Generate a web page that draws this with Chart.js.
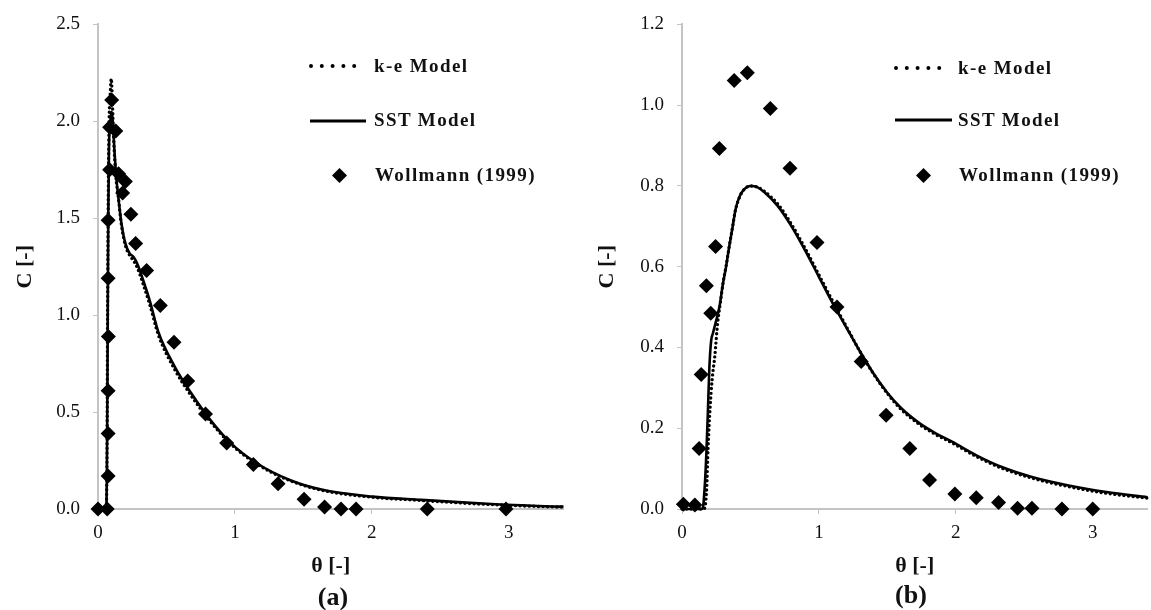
<!DOCTYPE html>
<html>
<head>
<meta charset="utf-8">
<script src="https://cdn.jsdelivr.net/npm/chart.js@4.4.1/dist/chart.umd.min.js"></script>
<style>
  html, body { margin:0; padding:0; background:#fff; }
  body { width:1151px; height:610px; position:relative; overflow:hidden; font-family:"Liberation Serif", serif; }
  .panel { position:absolute; top:0; height:610px; }
  .leg { position:absolute; font-weight:bold; font-size:19px; letter-spacing:1.4px; color:#111; line-height:20px; white-space:nowrap; }
  .cap { position:absolute; font-weight:bold; font-size:26px; color:#111; transform:translate(-50%,-50%); }
  svg.sym { position:absolute; overflow:visible; }
</style>
</head>
<body>

<div class="panel" style="left:0;width:571px"><canvas id="chart-a"></canvas></div>
<div class="panel" style="left:580px;width:575px"><canvas id="chart-b"></canvas></div>

<!-- legends -->
<svg class="sym" style="left:310px;top:60px" width="56" height="12"><line x1="1" y1="6" x2="55" y2="6" stroke="#000" stroke-width="4" stroke-linecap="round" stroke-dasharray="0 10.8"/></svg>
<div class="leg" style="left:374px;top:56px">k-e Model</div>
<svg class="sym" style="left:310px;top:115px" width="56" height="12"><line x1="0" y1="6" x2="56" y2="6" stroke="#000" stroke-width="3"/></svg>
<div class="leg" style="left:374px;top:110px">SST Model</div>
<svg class="sym" style="left:332px;top:168px" width="15" height="15"><polygon points="7.5,0 15,7.5 7.5,15 0,7.5" fill="#000"/></svg>
<div class="leg" style="left:375px;top:165px">Wollmann (1999)</div>

<svg class="sym" style="left:895px;top:62px" width="56" height="12"><line x1="1" y1="6" x2="55" y2="6" stroke="#000" stroke-width="4" stroke-linecap="round" stroke-dasharray="0 10.8"/></svg>
<div class="leg" style="left:958px;top:58px">k-e Model</div>
<svg class="sym" style="left:895px;top:114px" width="57" height="12"><line x1="0" y1="6" x2="57" y2="6" stroke="#000" stroke-width="3"/></svg>
<div class="leg" style="left:958px;top:110px">SST Model</div>
<svg class="sym" style="left:916px;top:168px" width="15" height="15"><polygon points="7.5,0 15,7.5 7.5,15 0,7.5" fill="#000"/></svg>
<div class="leg" style="left:959px;top:165px">Wollmann (1999)</div>

<div class="cap" style="left:333px;top:597px">(a)</div>
<div class="cap" style="left:911px;top:595px">(b)</div>

<script>
/* ── Data: panel (a) ───────────────────── */
const aSstX = [0, 0.06, 0.065, 0.07, 0.075, 0.08, 0.09, 0.1, 0.11, 0.12, 0.135, 0.15, 0.17, 0.2, 0.23, 0.26, 0.29, 0.33, 0.38, 0.44, 0.56, 0.68, 0.82, 0.97, 1.16, 1.4, 1.64, 2.0, 2.36, 2.84, 3.32, 3.4];
const aSstY = [0, 0, 0.2, 0.8, 1.5, 1.85, 2.0, 2.05, 1.98, 1.85, 1.7, 1.6, 1.48, 1.37, 1.32, 1.3, 1.26, 1.18, 1.07, 0.915, 0.735, 0.598, 0.46, 0.34, 0.236, 0.15, 0.099, 0.064, 0.047, 0.027, 0.013, 0.012];
const aKeX  = [0, 0.06, 0.066, 0.07, 0.075, 0.08, 0.09, 0.097, 0.105, 0.115, 0.13, 0.15, 0.17, 0.2, 0.23, 0.26, 0.29, 0.33, 0.38, 0.44, 0.56, 0.68, 0.82, 0.97, 1.16, 1.4, 1.64, 2.0, 2.36, 2.84, 3.32, 3.4];
const aKeY  = [0, 0, 0.3, 1.0, 1.6, 1.95, 2.15, 2.22, 2.1, 1.9, 1.72, 1.6, 1.47, 1.36, 1.31, 1.28, 1.24, 1.16, 1.05, 0.9, 0.72, 0.585, 0.452, 0.335, 0.232, 0.147, 0.096, 0.061, 0.044, 0.024, 0.011, 0.01];
const aExpX = [0, 0.067, 0.074, 0.074, 0.074, 0.076, 0.074, 0.074, 0.085, 0.085, 0.1, 0.13, 0.15, 0.2, 0.18, 0.24, 0.275, 0.355, 0.455, 0.555, 0.655, 0.785, 0.94, 1.135, 1.315, 1.505, 1.655, 1.775, 1.885, 2.405, 2.98];
const aExpY = [0, 0, 0.17, 0.39, 0.61, 0.89, 1.19, 1.49, 1.75, 1.97, 2.11, 1.95, 1.73, 1.69, 1.63, 1.52, 1.37, 1.23, 1.05, 0.86, 0.66, 0.49, 0.34, 0.23, 0.13, 0.05, 0.01, 0, 0, 0, 0];

/* ── Data: panel (b) ───────────────────── */
const bSstX = [0, 0.15, 0.165, 0.178, 0.19, 0.2, 0.213, 0.225, 0.25, 0.273, 0.3, 0.321, 0.345, 0.369, 0.39, 0.417, 0.45, 0.5, 0.55, 0.6, 0.7, 0.8, 0.9, 1.0, 1.1, 1.2, 1.3, 1.4, 1.5, 1.6, 1.736, 1.85, 1.976, 2.15, 2.336, 2.55, 2.815, 3.1, 3.4];
const bSstY = [0, 0, 0.05, 0.138, 0.25, 0.351, 0.417, 0.434, 0.467, 0.5, 0.56, 0.598, 0.65, 0.697, 0.74, 0.771, 0.79, 0.8, 0.797, 0.785, 0.75, 0.7, 0.64, 0.575, 0.51, 0.45, 0.39, 0.335, 0.288, 0.25, 0.212, 0.188, 0.166, 0.133, 0.104, 0.08, 0.059, 0.042, 0.029];
const bKeX  = [0, 0.16, 0.18, 0.19, 0.205, 0.22, 0.24, 0.26, 0.28, 0.3, 0.321, 0.345, 0.37, 0.39, 0.42, 0.45, 0.5, 0.55, 0.6, 0.7, 0.8, 0.9, 1.0, 1.1, 1.2, 1.3, 1.4, 1.5, 1.6, 1.736, 1.85, 1.976, 2.15, 2.336, 2.55, 2.815, 3.1, 3.4];
const bKeY  = [0, 0, 0.05, 0.15, 0.25, 0.32, 0.38, 0.46, 0.51, 0.56, 0.6, 0.65, 0.7, 0.74, 0.772, 0.79, 0.8, 0.797, 0.787, 0.755, 0.705, 0.645, 0.58, 0.515, 0.452, 0.39, 0.334, 0.286, 0.247, 0.209, 0.185, 0.163, 0.13, 0.101, 0.077, 0.056, 0.039, 0.027];
const bExpX = [0.01, 0.094, 0.125, 0.14, 0.178, 0.21, 0.245, 0.273, 0.381, 0.477, 0.645, 0.789, 0.986, 1.132, 1.309, 1.491, 1.664, 1.808, 1.993, 2.149, 2.312, 2.451, 2.556, 2.775, 3.0];
const bExpY = [0.012, 0.01, 0.15, 0.333, 0.553, 0.485, 0.65, 0.893, 1.061, 1.08, 0.992, 0.844, 0.66, 0.5, 0.365, 0.232, 0.15, 0.072, 0.037, 0.028, 0.016, 0.002, 0.002, 0, 0];

/* ── Axes ticks ────────────────────────── */
const xTicks  = [0, 1, 2, 3];
const aYTicks = [0, 0.5, 1.0, 1.5, 2.0, 2.5];
const bYTicks = [0, 0.2, 0.4, 0.6, 0.8, 1.0, 1.2];

const pts = (xs, ys) => xs.map((x, i) => ({ x, y: ys[i] }));

const AXIS = '#c4c4c4';
const tickFont  = { family: 'Liberation Serif', size: 19 };
const titleFont = { family: 'Liberation Serif', size: 22, weight: 'bold' };

function makeChart(id, d, yTicks, yMax, yAxisW, yTitlePad, topPad) {
  return new Chart(document.getElementById(id), {
    type: 'scatter',
    data: {
      datasets: [
        { label: 'Wollmann (1999)', data: pts(d.expX, d.expY), pointStyle: 'rectRot', pointRadius: 7.5,
          backgroundColor: '#000', borderColor: '#000', borderWidth: 0, showLine: false, clip: false },
        { label: 'SST Model', data: pts(d.sstX, d.sstY), showLine: true, pointRadius: 0,
          borderColor: '#000', borderWidth: 2.6, cubicInterpolationMode: 'monotone', clip: false },
        { label: 'k-e Model', data: pts(d.keX, d.keY), showLine: true, pointRadius: 0,
          borderColor: '#000', borderWidth: 3.4, borderDash: [0, 4.6], borderCapStyle: 'round',
          cubicInterpolationMode: 'monotone', clip: false },
      ],
    },
    options: {
      responsive: false,
      animation: false,
      events: [],
      layout: { padding: { top: topPad, bottom: 30, left: 0, right: 0 } },
      plugins: { legend: { display: false }, tooltip: { enabled: false } },
      scales: {
        x: {
          type: 'linear', min: 0, max: 3.4,
          afterBuildTicks: s => { s.ticks = xTicks.map(v => ({ value: v })); },
          afterFit: s => { s.height = 71; },
          border: { color: AXIS, width: 2 },
          grid: { drawOnChartArea: false, drawTicks: true, tickLength: 5, color: AXIS },
          ticks: { color: '#111', font: tickFont, padding: 8, callback: v => String(v) },
          title: { display: true, text: 'θ [-]', color: '#111', font: titleFont, padding: { top: 0, bottom: 0 } },
        },
        y: {
          type: 'linear', min: 0, max: yMax,
          afterBuildTicks: s => { s.ticks = yTicks.map(v => ({ value: v })); },
          afterFit: s => { s.width = yAxisW; },
          border: { color: AXIS, width: 2 },
          grid: { drawOnChartArea: false, drawTicks: true, tickLength: 5, color: AXIS },
          ticks: { color: '#111', font: tickFont, padding: 13, callback: v => Number(v).toFixed(1) },
          title: { display: true, text: 'C [-]', color: '#111', font: titleFont, padding: { top: yTitlePad, bottom: 0 } },
        },
      },
    },
  });
}

const ca = document.getElementById('chart-a'); ca.width = 571; ca.height = 610;
const cb = document.getElementById('chart-b'); cb.width = 575; cb.height = 610;

makeChart('chart-a',
  { sstX: aSstX, sstY: aSstY, keX: aKeX, keY: aKeY, expX: aExpX, expY: aExpY },
  aYTicks, 2.5, 98, 12, 22);

makeChart('chart-b',
  { sstX: bSstX, sstY: bSstY, keX: bKeX, keY: bKeY, expX: bExpX, expY: bExpY },
  bYTicks, 1.2, 102, 14, 23);
</script>
</body>
</html>
